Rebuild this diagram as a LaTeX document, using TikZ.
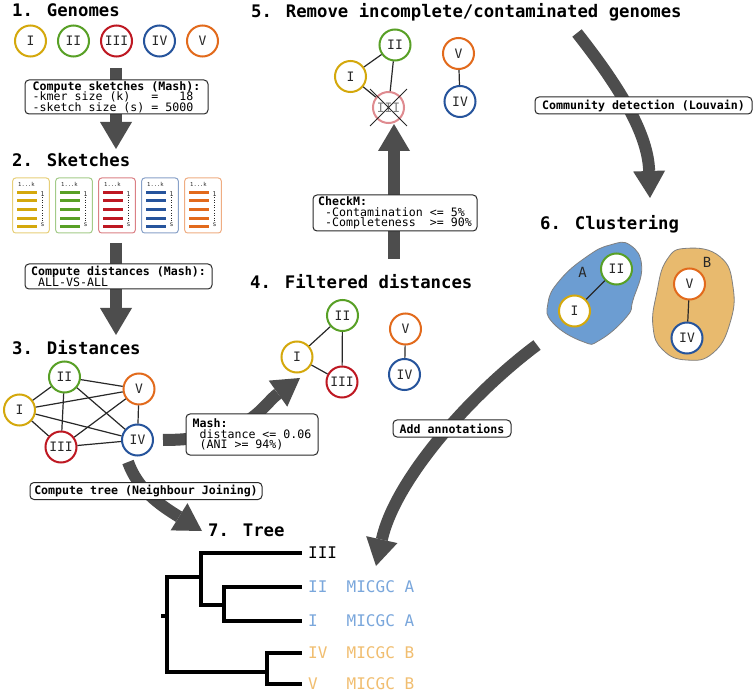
\documentclass[tikz,border=0pt]{standalone}
\usepackage{fontspec}
\setmainfont{DejaVu Sans Mono}
\usetikzlibrary{positioning,arrows.meta,shapes.misc}

\definecolor{cI}{RGB}{212,168,12}
\definecolor{cII}{RGB}{88,160,38}
\definecolor{cIII}{RGB}{190,24,34}
\definecolor{cIV}{RGB}{38,84,156}
\definecolor{cV}{RGB}{226,106,28}
\definecolor{txt}{RGB}{40,40,40}
\definecolor{arr}{RGB}{77,77,77}
\definecolor{blobA}{RGB}{108,157,210}
\definecolor{blobB}{RGB}{232,186,110}
\definecolor{labA}{RGB}{122,167,220}
\definecolor{labB}{RGB}{241,190,112}

\newcommand{\msp}{\hphantom{x}}

\begin{document}
\begin{tikzpicture}[x=1pt,y=-1pt,node distance=43pt,on grid,
    genome/.style={circle,draw=#1,line width=2pt,fill=white,minimum size=31pt,inner sep=0pt,text=txt,font=\fontsize{13}{13}\selectfont},
    title/.style={anchor=base west,inner sep=0pt,font=\bfseries\fontsize{17.3}{20}\selectfont},
    infobox/.style={draw=txt,line width=1pt,rounded corners=4pt,fill=white,inner xsep=2pt,inner ysep=1pt,align=left,
        font={\fontsize{11.6}{10.5}\selectfont\lineskiplimit=-20pt}},
    bigarrow/.style={arr,line width=12pt,-{Triangle[width=32pt,length=27pt,line width=0pt]}},
    link/.style={draw=txt,line width=1.2pt},
    treeline/.style={line width=3.3pt,line cap=rect},
    leaf/.style={anchor=west,inner sep=0pt,font=\fontsize{16}{16}\selectfont}]
\useasboundingbox[fill=white] (0,0) rectangle (756,695);

\node[title] (T1) at (12,17) {1. Genomes};
\node[title] (T2) at (12,167) {2. Sketches};
\node[title] (T3) at (12,355) {3. Distances};
\node[title] (T4) at (250,289) {4. Filtered distances};
\node[title] (T5) at (251,18) {5. Remove incomplete/contaminated genomes};
\node[title] (T6) at (540,230) {6. Clustering};
\node[title] (T7) at (208,536) {7. Tree};

\coordinate (GenOut) at (116,68);
\coordinate (SkIn) at (116,149);
\coordinate (SkOut) at (116,243);
\coordinate (DistIn) at (116,335);
\coordinate (DistOut) at (163,440);
\coordinate (FiltIn) at (300,378);
\coordinate (TreeOut) at (128,462);
\coordinate (TreeIn) at (202,531);
\coordinate (FiltOut) at (394,259);
\coordinate (RemIn) at (394,124);
\coordinate (RemOut) at (577,33);
\coordinate (ClustIn) at (650,198);
\coordinate (ClustOut) at (537,345);
\coordinate (AnnIn) at (376,566);

\fill[blobA,draw=gray,line width=0.8pt] plot[smooth cycle,tension=0.8] coordinates {
    (610,245) (630,245) (641.7,266.7) (633,300) (626.7,316.7) (600,340)
    (583,341.7) (553,323) (548,303) (560,280) (586.7,256.7)};
\fill[blobB,draw=gray,line width=0.8pt] plot[smooth cycle,tension=0.8] coordinates {
    (686.7,248.3) (720,256.7) (733,286.7) (730,323) (713,353) (686.7,360)
    (663,350) (653,326.7) (656.7,293) (666.7,260)};

\draw[bigarrow] (GenOut) -- (SkIn);
\draw[bigarrow] (SkOut) -- (DistIn);
\draw[bigarrow] (DistOut) .. controls (250,440) and (262,405) .. (FiltIn);
\draw[bigarrow] (TreeOut) .. controls (138,490) and (160,505) .. (TreeIn);
\draw[bigarrow] (FiltOut) -- (RemIn);
\draw[bigarrow] (RemOut) .. controls (622,90) and (648,135) .. (ClustIn);
\draw[bigarrow] (ClustOut) .. controls (470,395) and (395,480) .. (AnnIn);

\node[infobox,minimum width=183pt,minimum height=34pt] (Sketch) at (116.5,97)
    {{\bfseries Compute sketches (Mash):}\\-kmer size (k)\msp\msp\msp=\msp\msp\msp18\\-sketch size (s) = 5000};
\node[infobox,minimum width=187pt,minimum height=25pt] (AllVsAll) at (118.5,276.5)
    {{\bfseries Compute distances (Mash):}\\\msp ALL-VS-ALL};
\node[infobox,minimum width=132pt,minimum height=41pt] (Mash) at (252,434.5)
    {{\bfseries Mash:}\\\msp distance <= 0.06\\\msp(ANI >= 94\%)};
\node[infobox,minimum width=232pt,minimum height=17pt] (NJ) at (146,491)
    {\bfseries Compute tree (Neighbour Joining)};
\node[infobox,minimum width=164pt,minimum height=36pt] (CheckM) at (395,213)
    {{\bfseries CheckM:}\\\msp-Contamination <= 5\%\\\msp-Completeness\msp\msp>= 90\%};
\node[infobox,minimum width=217pt,minimum height=17pt] (Louvain) at (643.5,105.5)
    {\bfseries Community detection (Louvain)};
\node[infobox,minimum width=118pt,minimum height=17pt] (Annot) at (452,428.5)
    {\bfseries Add annotations};

\node[genome=cI] (GI) at (30.5,41) {I};
\node[genome=cII] (GII) [right=of GI] {II};
\node[genome=cIII] (GIII) [right=of GII] {III};
\node[genome=cIV] (GIV) [right=of GIII] {IV};
\node[genome=cV] (GV) [right=of GIV] {V};

\foreach \col [count=\i from 0] in {cI,cII,cIII,cIV,cV}{
  \begin{scope}[xshift=43*\i]
    \draw[\col!55,line width=1pt,rounded corners=3pt] (12.7,178) rectangle (49.3,233);
    \node[font=\fontsize{5.5}{6}\selectfont,text=txt,inner sep=0pt] (K\i) at (26.5,184.5) {1...k};
    \foreach \y in {192.3,201,209.7,218.3,227}
      \draw[\col,line width=3pt] (17.3,\y) -- (37.3,\y);
    \node[font=\fontsize{6.5}{7}\selectfont,text=txt,inner sep=0pt] (One\i) at (42.7,194.5) {1};
    \node[font=\fontsize{6.5}{7}\selectfont,text=txt,inner sep=0pt] (S\i) at (42.7,224.5) {s};
    \draw[txt,dotted,line width=0.6pt] (One\i) -- (S\i);
  \end{scope}
}

\node[genome=cI] (DI) at (19.5,410) {I};
\node[genome=cII] (DII) at (64.5,377) {II};
\node[genome=cIII] (DIII) at (61,447) {III};
\node[genome=cIV] (DIV) at (137.5,440) {IV};
\node[genome=cV] (DV) at (139,389) {V};
\path[link] (DI) edge (DII) edge (DIII) edge (DIV) edge (DV)
    (DII) edge (DIII) edge (DIV) edge (DV)
    (DIII) edge (DIV) edge (DV)
    (DIV) edge (DV);

\node[genome=cI] (FI) at (297,357) {I};
\node[genome=cII] (FII) at (342.5,315.5) {II};
\node[genome=cIII] (FIII) at (342,382) {III};
\node[genome=cIV] (FIV) at (404.5,374.5) {IV};
\node[genome=cV] (FV) at (405.5,329) {V};
\path[link] (FI) edge (FII) edge (FIII)
    (FII) edge (FIII)
    (FV) edge (FIV);

\node[genome=cI] (RI) at (350.5,76.5) {I};
\node[genome=cII] (RII) at (395,45) {II};
\node[genome=cIII!50,text=gray] (RIII) at (388.5,107.5) {III};
\node[genome=cIV] (RIV) at (460,101.5) {IV};
\node[genome=cV] (RV) at (458.5,53.5) {V};
\path[link] (RI) edge (RII) edge (RIII)
    (RII) edge (RIII)
    (RV) edge (RIV);
\node[cross out,draw=txt,line width=0.9pt,minimum size=36pt,inner sep=0pt] (Drop) at (RIII) {};

\node[genome=cI] (CI) at (574.5,311) {I};
\node[genome=cII] (CII) at (616.5,269) {II};
\node[genome=cV] (CV) at (689.5,284) {V};
\node[genome=cIV] (CIV) at (687,338) {IV};
\path[link] (CI) edge (CII)
    (CV) edge (CIV);
\node[text=txt,font=\fontsize{14}{14}\selectfont] (LabA) at (582.5,272) {A};
\node[text=txt,font=\fontsize{14}{14}\selectfont] (LabB) at (707,262) {B};

\coordinate (LIII) at (300,553);
\coordinate (LII) at (300,587);
\coordinate (LI) at (300,621);
\coordinate (LIV) at (300,653);
\coordinate (LV) at (300,684);
\draw[treeline] (LIII) -| (201,605) -- (224,605);
\draw[treeline] (LII) -| (224,621) -- (LI);
\draw[treeline] (201,577) -- (167,577) -- (167,672) -- (267,672);
\draw[treeline] (LIV) -| (267,684) -- (LV);
\draw[treeline] (163,616) -- (167,616);
\node[leaf] (NIII) at (308,553) {III};
\node[leaf,text=labA] (NII) at (308,587) {II\msp\msp MICGC A};
\node[leaf,text=labA] (NI) at (308,621) {I\msp\msp\msp MICGC A};
\node[leaf,text=labB] (NIV) at (308,653) {IV\msp\msp MICGC B};
\node[leaf,text=labB] (NV) at (308,684) {V\msp\msp\msp MICGC B};
\end{tikzpicture}
\end{document}
